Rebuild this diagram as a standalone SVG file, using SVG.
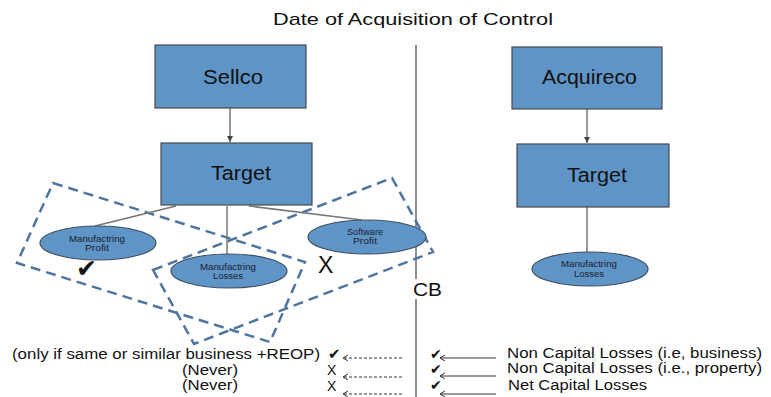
<svg xmlns="http://www.w3.org/2000/svg" width="771" height="397" viewBox="0 0 771 397">
<style>
.box{fill:#5f94c6;stroke:#4a4a4a;stroke-width:1.2}
.ell{fill:#5f94c6;stroke:#3f4f60;stroke-width:1.2}
.bt{font-family:"Liberation Sans",Arial,sans-serif;font-size:20px;fill:#111}
.et{font-family:"Liberation Sans",Arial,sans-serif;font-size:8.5px;fill:#1a2330;text-anchor:middle}
.t{font-family:"Liberation Sans",Arial,sans-serif;font-size:14px;fill:#111}
.sym{font-family:"DejaVu Sans",sans-serif;fill:#111}
.dash{fill:none;stroke:#4e75a0;stroke-width:2.5;stroke-dasharray:10 6}
.tie{stroke:#777;stroke-width:1.5;fill:none}
.arr{stroke:#555;stroke-width:1.2;fill:none}
.ptr{stroke:#333;stroke-width:1;fill:none}
</style>
<defs>
<marker id="ah" markerWidth="8" markerHeight="8" refX="6" refY="3" orient="auto" markerUnits="userSpaceOnUse">
<path d="M0,0 L6,3 L0,6 Z" fill="#444"/>
</marker>
<marker id="oh" markerWidth="8" markerHeight="8" refX="5" refY="3" orient="auto" markerUnits="userSpaceOnUse">
<path d="M0,0 L5,3 L0,6" fill="none" stroke="#333" stroke-width="1"/>
</marker>
</defs>

<text id="title" x="273" y="25" font-family="Liberation Sans, Arial, sans-serif" font-size="17" fill="#111" textLength="280" lengthAdjust="spacingAndGlyphs">Date of Acquisition of Control</text>

<g id="divider">
<line x1="416" y1="45" x2="416" y2="279" stroke="#444" stroke-width="1.2"/>
<line x1="416" y1="299" x2="416" y2="397" stroke="#444" stroke-width="1.2"/>
<text x="413" y="296" font-family="Liberation Sans, Arial, sans-serif" font-size="18" fill="#111" textLength="29" lengthAdjust="spacingAndGlyphs">CB</text>
</g>

<g id="groupings">
<polygon class="dash" points="53,183 305,262 270,342 17,263"/>
<polygon class="dash" points="153,270 392,178 433,252 194,344"/>
</g>

<g id="connectors">
<line class="arr" x1="230" y1="108" x2="230" y2="142" marker-end="url(#ah)"/>
<line class="arr" x1="587" y1="109" x2="587" y2="143" marker-end="url(#ah)"/>
<line class="tie" x1="176" y1="206" x2="95" y2="226"/>
<line class="tie" x1="227" y1="206" x2="227" y2="254"/>
<line class="tie" x1="249" y1="206" x2="362" y2="220"/>
<line class="tie" x1="587" y1="207" x2="587" y2="252"/>
<line class="ptr" x1="402" y1="358" x2="343" y2="358" stroke-dasharray="3 2" marker-end="url(#oh)"/>
<line class="ptr" x1="402" y1="377" x2="343" y2="377" stroke-dasharray="3 2" marker-end="url(#oh)"/>
<line class="ptr" x1="402" y1="394" x2="343" y2="394" stroke-dasharray="3 2" marker-end="url(#oh)"/>
<line class="ptr" x1="496" y1="358" x2="440" y2="358" marker-end="url(#oh)"/>
<line class="ptr" x1="496" y1="376" x2="440" y2="376" marker-end="url(#oh)"/>
<line class="ptr" x1="496" y1="394" x2="440" y2="394" marker-end="url(#oh)"/>
</g>

<g id="sellco">
<rect class="box" x="155" y="45" width="151" height="63"/>
<text class="bt" x="203" y="84" textLength="60" lengthAdjust="spacingAndGlyphs">Sellco</text>
</g>
<g id="target-left">
<rect class="box" x="161" y="143" width="151" height="62"/>
<text class="bt" x="211" y="180" textLength="60" lengthAdjust="spacingAndGlyphs">Target</text>
</g>
<g id="acquireco">
<rect class="box" x="512" y="47" width="150" height="62"/>
<text class="bt" x="542" y="84" textLength="95" lengthAdjust="spacingAndGlyphs">Acquireco</text>
</g>
<g id="target-right">
<rect class="box" x="517" y="144" width="152" height="63"/>
<text class="bt" x="567" y="182" textLength="60" lengthAdjust="spacingAndGlyphs">Target</text>
</g>

<g id="mfg-profit">
<ellipse class="ell" cx="98" cy="243" rx="58" ry="17"/>
<text class="et" x="97" y="242" textLength="56" lengthAdjust="spacingAndGlyphs">Manufactring</text>
<text class="et" x="97" y="251" textLength="24" lengthAdjust="spacingAndGlyphs">Profit</text>
</g>
<g id="mfg-losses-left">
<ellipse class="ell" cx="229" cy="271" rx="58" ry="17"/>
<text class="et" x="228" y="270" textLength="56" lengthAdjust="spacingAndGlyphs">Manufactring</text>
<text class="et" x="228" y="279" textLength="30" lengthAdjust="spacingAndGlyphs">Losses</text>
</g>
<g id="software-profit">
<ellipse class="ell" cx="367" cy="237" rx="59" ry="17"/>
<text class="et" x="365" y="235" textLength="36" lengthAdjust="spacingAndGlyphs">Software</text>
<text class="et" x="365" y="244" textLength="24" lengthAdjust="spacingAndGlyphs">Profit</text>
</g>
<g id="mfg-losses-right">
<ellipse class="ell" cx="590" cy="269" rx="58" ry="17"/>
<text class="et" x="589" y="267" textLength="56" lengthAdjust="spacingAndGlyphs">Manufactring</text>
<text class="et" x="589" y="277" textLength="30" lengthAdjust="spacingAndGlyphs">Losses</text>
</g>

<g id="marks">
<text class="sym" x="76" y="277" font-size="25">✔</text>
<text x="318" y="273" font-family="Liberation Sans, Arial, sans-serif" font-size="23" fill="#111">X</text>
</g>

<g id="left-notes">
<text class="t" x="12" y="359" textLength="308" lengthAdjust="spacingAndGlyphs">(only if same or similar business +REOP)</text>
<text class="t" x="182" y="375" textLength="56" lengthAdjust="spacingAndGlyphs">(Never)</text>
<text class="t" x="182" y="390" textLength="56" lengthAdjust="spacingAndGlyphs">(Never)</text>
<text class="sym" x="328" y="359" font-size="15">✔</text>
<text class="t" x="327" y="375">X</text>
<text class="t" x="327" y="391">X</text>
</g>

<g id="right-notes">
<text class="sym" x="430" y="359" font-size="14">✔</text>
<text class="sym" x="430" y="374" font-size="14">✔</text>
<text class="sym" x="430" y="390" font-size="14">✔</text>
<text class="t" x="507" y="358" textLength="255" lengthAdjust="spacingAndGlyphs">Non Capital Losses (i.e, business)</text>
<text class="t" x="507" y="373" textLength="255" lengthAdjust="spacingAndGlyphs">Non Capital Losses (i.e., property)</text>
<text class="t" x="508" y="390" textLength="139" lengthAdjust="spacingAndGlyphs">Net Capital Losses</text>
</g>
</svg>
